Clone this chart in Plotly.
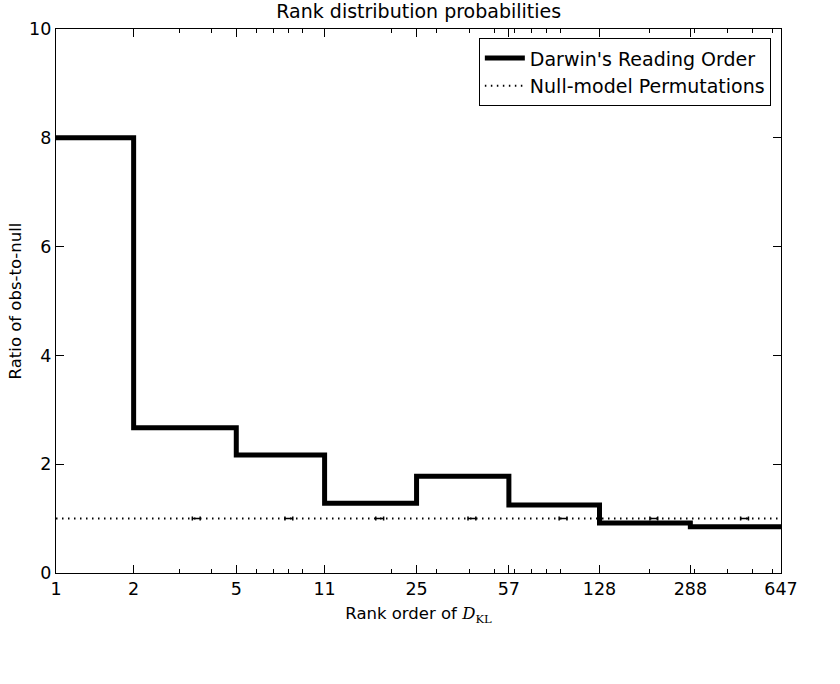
import plotly.graph_objects as go

# Data
bin_edges = [1, 2, 5, 11, 25, 57, 128, 288, 647]
ratio_values = [8.0, 2.67, 2.17, 1.28, 1.78, 1.25, 0.92, 0.85]
null_x = [3.5, 8, 18, 41, 92.5, 208, 467.5]
null_y = [1, 1, 1, 1, 1, 1, 1]
tick_vals = [1, 2, 5, 11, 25, 57, 128, 288, 647]
tick_text = ["1", "2", "5", "11", "25", "57", "128", "288", "647"]
minor_vals = [3, 4, 6, 7, 8, 9, 20, 30, 40, 50, 60, 70, 80, 90,
              200, 300, 400, 500, 600]

FONT = "DejaVu Sans"

fig = go.Figure()

step_y = ratio_values + [ratio_values[-1]]
fig.add_trace(go.Scatter(
    x=bin_edges, y=step_y, mode="lines", line_shape="hv",
    line=dict(color="black", width=5),
    name="Darwin's Reading Order",
))

fig.add_trace(go.Scatter(
    x=[bin_edges[0], bin_edges[-1]], y=[1, 1], mode="lines",
    line=dict(color="black", width=2, dash="1.5px,4.5px"),
    name="Null-model Permutations",
))

fig.add_trace(go.Scatter(
    x=null_x, y=null_y, mode="lines",
    line=dict(color="rgba(0,0,0,0)", width=0),
    error_x=dict(type="percent", value=3.5, color="black",
                 thickness=1.5, width=2),
    showlegend=False, hoverinfo="skip",
))

axis_common = dict(
    showline=True, linecolor="black", linewidth=1.3, mirror="allticks",
    ticks="inside", tickcolor="black", ticklen=8, tickwidth=1,
    showgrid=False, zeroline=False, automargin=False,
    tickfont=dict(family=FONT, size=17.5, color="black"),
)

fig.update_layout(
    width=840, height=684,
    margin=dict(l=56, r=59, t=29, b=111),
    paper_bgcolor="white", plot_bgcolor="white",
    font=dict(family=FONT, color="black"),
    title=dict(text="Rank distribution probabilities", x=0.4985, xanchor="center",
               y=0.983, yanchor="middle",
               font=dict(family=FONT, size=19, color="black")),
    xaxis=dict(
        type="log", range=[0, 2.8109],
        tickmode="array", tickvals=tick_vals, ticktext=tick_text,
        minor=dict(tickmode="array", tickvals=minor_vals, ticks="inside",
                   ticklen=4, tickcolor="black", tickwidth=1, showgrid=False),
        title=dict(text='Rank order of <i style="font-family:DejaVu Serif">D</i>'
                        '<sub style="font-family:DejaVu Serif">KL</sub>',
                   font=dict(family=FONT, size=16.5, color="black"), standoff=9),
        **axis_common,
    ),
    yaxis=dict(
        range=[0, 10], tickmode="array", tickvals=[0, 2, 4, 6, 8, 10],
        title=dict(text="Ratio of obs-to-null",
                   font=dict(family=FONT, size=16.5, color="black"), standoff=3),
        **axis_common,
    ),
    legend=dict(
        x=0.986, y=0.983, xanchor="right", yanchor="top",
        bordercolor="black", borderwidth=1, bgcolor="white",
        font=dict(family=FONT, size=19, color="black"),
        itemwidth=40, tracegroupgap=0,
    ),
)

fig.write_html("out.html")
